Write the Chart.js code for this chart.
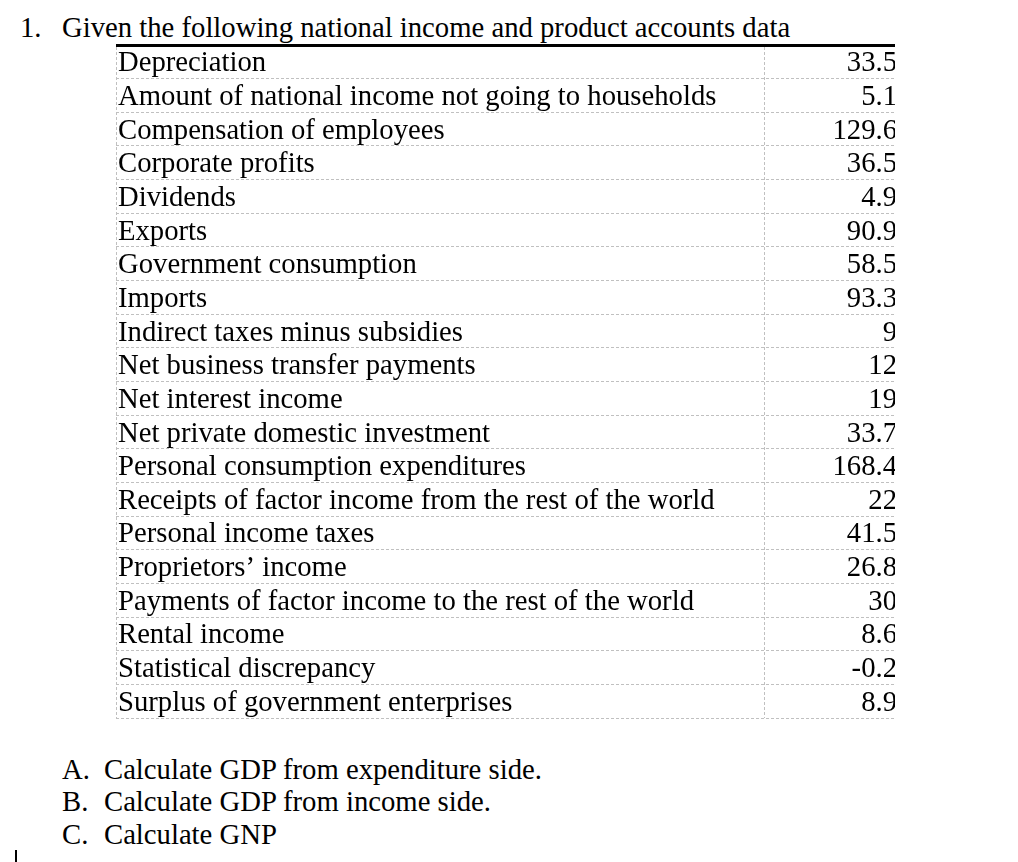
<!DOCTYPE html>
<html>
<head>
<meta charset="utf-8">
<script src="https://cdn.jsdelivr.net/npm/chart.js@4.4.1/dist/chart.umd.min.js"></script>
<style>
  body { margin: 0; background: #fff; font-family: "Liberation Serif", "Tinos", "DejaVu Serif", serif; color: #000; }
  .txt { position: absolute; font-size: 28.7px; line-height: 30px; white-space: nowrap; }
  #chartBox { position: absolute; left: 116px; top: 41px; }
  #cursor { position: absolute; left: 15px; top: 850px; width: 2px; height: 12px; background: #000; }
</style>
</head>
<body>
<div class="txt" style="left:20px; top:12px;">1.</div>
<div class="txt" style="left:62px; top:12px;">Given the following national income and product accounts data</div>

<div id="chartBox"><canvas id="myChart" width="779" height="679"></canvas></div>

<div class="txt" style="left:62px; top:754px;">A.</div>
<div class="txt" style="left:104px; top:754px;">Calculate GDP from expenditure side.</div>
<div class="txt" style="left:62px; top:786px;">B.</div>
<div class="txt" style="left:104px; top:786px;">Calculate GDP from income side.</div>
<div class="txt" style="left:62px; top:819px;">C.</div>
<div class="txt" style="left:104px; top:819px;">Calculate GNP</div>
<div id="cursor"></div>

<script>
const categories = [
  "Depreciation",
  "Amount of national income not going to households",
  "Compensation of employees",
  "Corporate profits",
  "Dividends",
  "Exports",
  "Government consumption",
  "Imports",
  "Indirect taxes minus subsidies",
  "Net business transfer payments",
  "Net interest income",
  "Net private domestic investment",
  "Personal consumption expenditures",
  "Receipts of factor income from the rest of the world",
  "Personal income taxes",
  "Proprietors\u2019 income",
  "Payments of factor income to the rest of the world",
  "Rental income",
  "Statistical discrepancy",
  "Surplus of government enterprises"
];
const values = [33.5, 5.1, 129.6, 36.5, 4.9, 90.9, 58.5, 93.3, 9, 12, 19, 33.7, 168.4, 22, 41.5, 26.8, 30, 8.6, -0.2, 8.9];
const valueLabels = values.map(v => String(v));

// where the column divider sits, as a share of the table width
const dividerAt = 0.833;

Chart.defaults.font.family = "'Liberation Serif', 'Tinos', 'DejaVu Serif', serif";
Chart.defaults.font.size = 28.7;
Chart.defaults.color = "#000";

const gridDash = [3, 2];
const gridColor = "#c0c0c0";

// the mirrored labels sit inside the rows, so no extra room above/below
const flatAxis = (s) => { s.width = 0; s.paddingTop = 0; s.paddingBottom = 0; };

const ctx = document.getElementById("myChart").getContext("2d");
new Chart(ctx, {
  type: "bar",
  data: {
    labels: categories,
    datasets: [{
      label: "Value",
      data: values,
      backgroundColor: "rgba(0,0,0,0)",
      borderWidth: 0
    }]
  },
  options: {
    indexAxis: "y",
    responsive: false,
    animation: false,
    layout: { autoPadding: false, padding: { top: 4, bottom: 2, left: 0, right: 0 } },
    plugins: { legend: { display: false }, tooltip: { enabled: false } },
    scales: {
      x: {
        type: "linear",
        position: "top",
        min: 0,
        max: 1,
        afterBuildTicks: (s) => { s.ticks = [{ value: 0 }, { value: dividerAt }, { value: 1 }]; },
        afterFit: (s) => { s.height = 0; s.paddingLeft = 0; s.paddingRight = 0; },
        ticks: { display: false },
        grid: { color: gridColor, drawTicks: false },
        border: { display: true, color: "#000", width: 3, dash: gridDash }
      },
      y: {
        type: "category",
        position: "left",
        offset: true,
        afterFit: flatAxis,
        ticks: { mirror: true, padding: 2, autoSkip: false, labelOffset: 2 },
        grid: {
          offset: true,
          drawTicks: false,
          color: (c) => c.index === 0 ? "rgba(0,0,0,0)" : gridColor
        },
        border: { display: false, dash: gridDash }
      },
      y2: {
        type: "category",
        position: "right",
        labels: valueLabels,
        offset: true,
        afterFit: flatAxis,
        ticks: { mirror: true, padding: 2, autoSkip: false, labelOffset: 2 },
        grid: { display: false, drawTicks: false },
        border: { display: false }
      }
    }
  }
});
</script>
</body>
</html>
